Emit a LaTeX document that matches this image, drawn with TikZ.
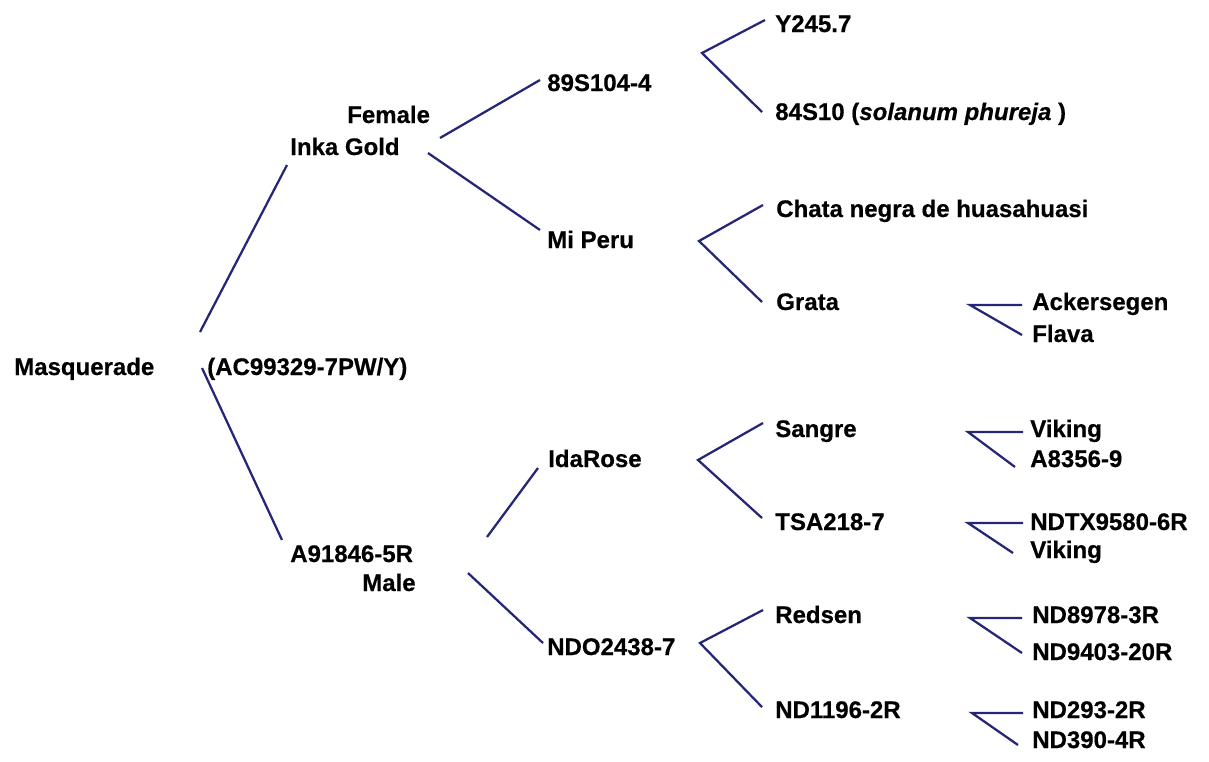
\documentclass[tikz,border=0pt]{standalone}
\usepackage{fontspec}
\setmainfont{Liberation Sans}[FakeBold=0.5]
\usepackage{tikz}
\usetikzlibrary{positioning}
\definecolor{branch}{RGB}{38,38,120}

\begin{document}
\begin{tikzpicture}[
x=0.75pt, y=-0.75pt,
Branch/.style={draw=branch,line width=1.7pt},
Name/.style={anchor=base west,inner sep=0pt,font=\fontsize{18}{22}\selectfont\bfseries}
]
\useasboundingbox (0,0) rectangle (1209,761);

% names of the pedigree, placed on their baselines
\node[Name] (mask) at (14,375) {Masquerade};
\node[Name] (acc) at (207,375) {(AC99329-7PW/Y)};

\node[Name] (female) at (347,123) {Female};
\node[Name] (inka) at (290,155) {Inka Gold};
\node[Name] (a918) at (290,562) {A91846-5R};
\node[Name] (male) at (362,591) {Male};

\node[Name] (s89) at (547,91) {89S104-4};
\node[Name] (peru) at (547,248) {Mi Peru};
\node[Name] (ida) at (548,467) {IdaRose};
\node[Name] (ndo) at (547,655) {NDO2438-7};

\node[Name] (y245) at (775,32) {Y245.7};
\node[Name] (s84) at (775,120) {84S10 (\textit{solanum phureja} )};
\node[Name] (chata) at (776,217) {Chata negra de huasahuasi};
\node[Name] (grata) at (776,310) {Grata};
\node[Name] (sangre) at (775,437) {Sangre};
\node[Name] (tsa) at (775,530) {TSA218-7};
\node[Name] (redsen) at (775,623) {Redsen};
\node[Name] (nd1196) at (775,718) {ND1196-2R};

\node[Name] (acker) at (1032,310) {Ackersegen};
\node[Name] (flava) at (1032,342) {Flava};
\node[Name] (vika) at (1030,437) {Viking};
\node[Name] (a8356) at (1030,467) {A8356-9};
\node[Name] (ndtx) at (1030,530) {NDTX9580-6R};
\node[Name] (vikb) at (1030,558) {Viking};
\node[Name] (nd8978) at (1032,623) {ND8978-3R};
\node[Name] (nd9403) at (1032,660) {ND9403-20R};
\node[Name] (nd293) at (1032,718) {ND293-2R};
\node[Name] (nd390) at (1032,748) {ND390-4R};

% ends of the branches
\coordinate (rootU) at (200,332);
\coordinate (rootD) at (202,368);
\coordinate (mumU) at (287,165);
\coordinate (dadU) at (282,540);

\coordinate (inkaA) at (440,138);
\coordinate (inkaB) at (428,153);
\coordinate (s89W) at (540,80);
\coordinate (peruW) at (540,230);

\coordinate (a918A) at (487,537);
\coordinate (a918B) at (468,573);
\coordinate (idaW) at (538,468);
\coordinate (ndoW) at (543,643);

\coordinate (s89V) at (702,53);
\coordinate (y245W) at (765,20);
\coordinate (s84W) at (762,112);

\coordinate (peruV) at (699,241);
\coordinate (chataW) at (763,205);
\coordinate (grataW) at (762,302);

\coordinate (idaV) at (698,460);
\coordinate (sangreW) at (763,423);
\coordinate (tsaW) at (762,518);

\coordinate (ndoV) at (700,643);
\coordinate (redsenW) at (763,610);
\coordinate (nd1196W) at (762,707);

\coordinate (grataV) at (970,305);
\coordinate (ackerW) at (1022,305);
\coordinate (flavaW) at (1022,335);

\coordinate (sangreV) at (968,432);
\coordinate (vikaW) at (1023,432);
\coordinate (a8356W) at (1015,467);

\coordinate (tsaV) at (968,523);
\coordinate (ndtxW) at (1023,523);
\coordinate (vikbW) at (1013,553);

\coordinate (redsenV) at (970,618);
\coordinate (nd8978W) at (1022,618);
\coordinate (nd9403W) at (1022,653);

\coordinate (ndV) at (972,713);
\coordinate (nd293W) at (1023,713);
\coordinate (nd390W) at (1018,745);

\draw[Branch] (rootU) -- (mumU);
\draw[Branch] (rootD) -- (dadU);

\draw[Branch] (inkaA) -- (s89W);
\draw[Branch] (inkaB) -- (peruW);
\draw[Branch] (a918A) -- (idaW);
\draw[Branch] (a918B) -- (ndoW);

\draw[Branch] (y245W) -- (s89V) -- (s84W);
\draw[Branch] (chataW) -- (peruV) -- (grataW);
\draw[Branch] (sangreW) -- (idaV) -- (tsaW);
\draw[Branch] (redsenW) -- (ndoV) -- (nd1196W);

\draw[Branch] (ackerW) -- (grataV) -- (flavaW);
\draw[Branch] (vikaW) -- (sangreV) -- (a8356W);
\draw[Branch] (ndtxW) -- (tsaV) -- (vikbW);
\draw[Branch] (nd8978W) -- (redsenV) -- (nd9403W);
\draw[Branch] (nd293W) -- (ndV) -- (nd390W);

\end{tikzpicture}
\end{document}
